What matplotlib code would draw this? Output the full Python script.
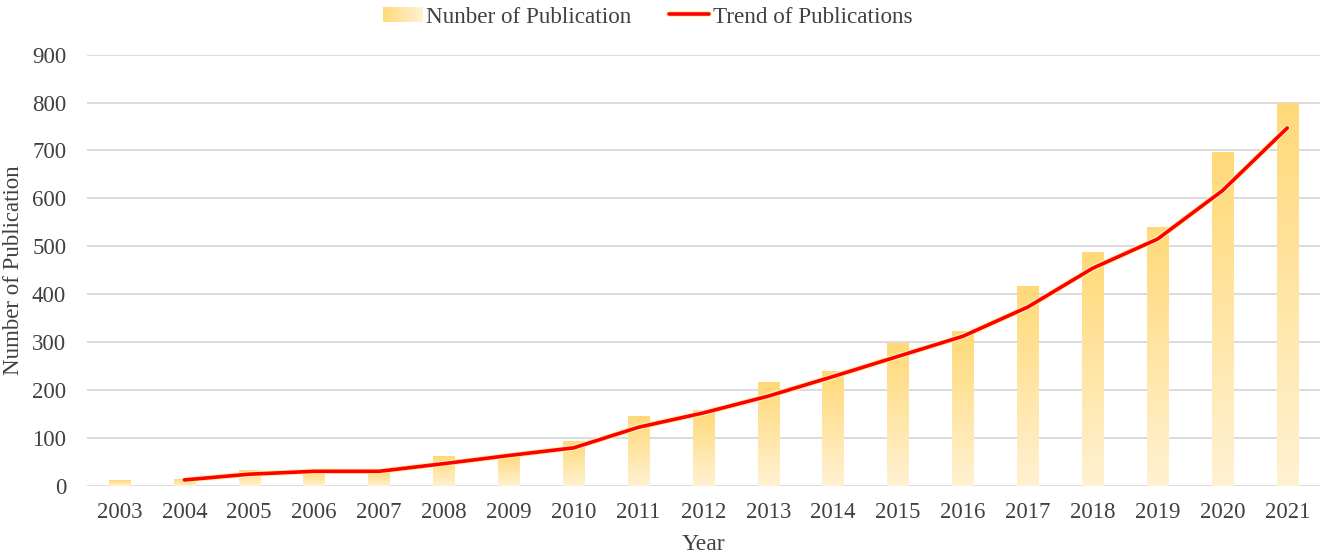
import matplotlib
matplotlib.use("Agg")
import matplotlib.pyplot as plt
import numpy as np
from matplotlib.legend_handler import HandlerBase
from matplotlib.patches import Rectangle
from matplotlib.colors import LinearSegmentedColormap
import matplotlib.patheffects as pe

years = ["2003", "2004", "2005", "2006", "2007", "2008", "2009", "2010", "2011", "2012",
         "2013", "2014", "2015", "2016", "2017", "2018", "2019", "2020", "2021"]
publications = [12, 13, 32, 28, 28, 61, 66, 94, 146, 157, 216, 239, 298, 322, 418, 489, 541, 696, 800]
trend_years = years[1:]
trend_values = [12, 24, 30, 30, 46, 63, 79, 122, 152, 187, 228, 270, 312, 373, 454, 515, 616, 747]
y_ticks = [0, 100, 200, 300, 400, 500, 600, 700, 800, 900]

plt.rcParams['font.family'] = ['Liberation Serif', 'DejaVu Serif']
text_color = '#404040'

top_color = '#FFD978'
bottom_color = '#FFF1D2'
cmap = LinearSegmentedColormap.from_list('gold', [bottom_color, top_color])

fig = plt.figure(figsize=(13.25, 5.58), dpi=100)
ax = fig.add_axes([0.0657, 0.1296, 0.9303, 0.7724])

x = np.arange(len(years))
bars = ax.bar(x, publications, width=0.33, color='none', edgecolor='none', zorder=2,
              label='Nunber of Publication')
grad = np.linspace(0, 1, 256).reshape(-1, 1)
for b in bars:
    bx, by = b.get_x(), b.get_y()
    bw, bh = b.get_width(), b.get_height()
    im = ax.imshow(grad, cmap=cmap, origin='lower', aspect='auto',
                   extent=[bx, bx + bw, by, by + bh], zorder=2, interpolation='bilinear')
    im.set_clip_path(b)

tx = [years.index(t) for t in trend_years]
line, = ax.plot(tx, trend_values, color='#FF0000', lw=2.6, zorder=3, solid_capstyle='round',
                label='Trend of Publications',
                path_effects=[pe.Stroke(linewidth=4.2, foreground='#FFF3B0'), pe.Normal()])

ax.set_xlim(-0.5, len(years) - 0.5)
ax.set_ylim(0, 900)
ax.set_yticks(y_ticks)
ax.set_xticks(x)
ax.set_xticklabels(years)
ax.grid(axis='y', color='#D9D9D9', lw=1.3, zorder=0)
ax.set_axisbelow(True)
for s in ax.spines.values():
    s.set_visible(False)
ax.tick_params(axis='both', length=0, labelsize=16.5, colors=text_color)
ax.tick_params(axis='x', pad=12)
ax.tick_params(axis='y', pad=15)
ax.set_xlabel('Year', fontsize=17, color=text_color, labelpad=8)
fig.text(14 / 1325, 0.5 * (0.1296 + 0.902), 'Number of Publication', rotation=90,
         ha='center', va='center', fontsize=16.5, color=text_color)


class GradientHandler(HandlerBase):
    def create_artists(self, legend, orig_handle, xdescent, ydescent, width, height, fontsize, trans):
        n = 30
        arts = []
        for i in range(n):
            c = cmap(1 - i / (n - 1))
            r = Rectangle((-xdescent + width * i / n, -ydescent + height * 0.05), width / n + 0.3,
                          height * 0.9, facecolor=c, edgecolor='none', transform=trans)
            arts.append(r)
        return arts


leg = fig.legend([bars, line], [bars.get_label(), line.get_label()],
                 loc='upper center', bbox_to_anchor=(0.4887, 1.026), ncol=2,
                 frameon=False, fontsize=16.7, handlelength=1.72, handletextpad=0.15,
                 columnspacing=1.64, labelcolor=text_color,
                 handler_map={type(bars): GradientHandler()})

fig.savefig('out.png', dpi=100)
